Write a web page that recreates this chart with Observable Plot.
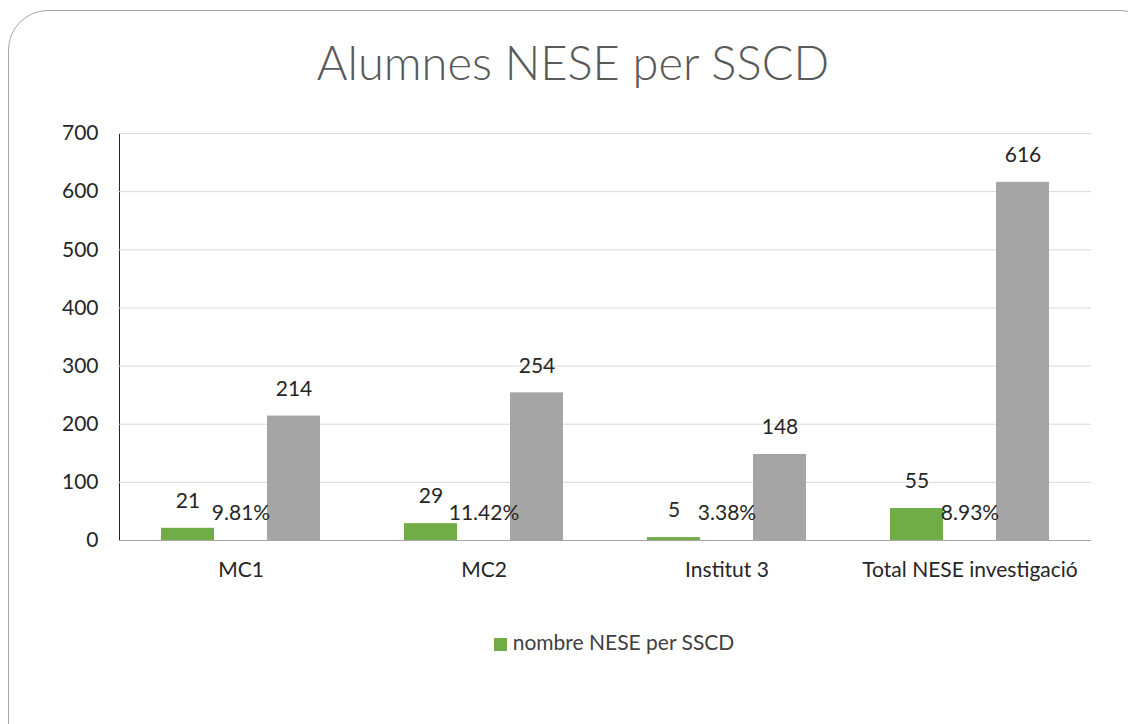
<!DOCTYPE html>
<html>
<head>
<meta charset="utf-8">
<script src="https://cdn.jsdelivr.net/npm/d3@7"></script>
<script src="https://cdn.jsdelivr.net/npm/@observablehq/plot@0.6"></script>
<style>
  html, body { margin: 0; padding: 0; width: 1128px; height: 724px; overflow: hidden; background: #fff; font-family: Lato, "Open Sans", sans-serif; }
  #box { position: absolute; left: 8px; top: 10px; width: 1150px; height: 760px; border: 1.5px solid #a6a6a6; border-radius: 40px; }
  #title { position: absolute; left: 0; top: 34px; width: 1146px; text-align: center; font-size: 47px; font-weight: 300; color: #595959; }
  #chart { position: absolute; left: 0; top: 110px; }
  #legend { position: absolute; left: 0; top: 629px; width: 1228px; text-align: center; font-size: 21px; color: #404040; }
  #legend .sw { display: inline-block; width: 13px; height: 13px; background: #70ad47; margin-right: 6px; vertical-align: -1px; }
</style>
</head>
<body>
<div id="box"></div>
<div id="title">Alumnes NESE per SSCD</div>
<div id="chart"></div>
<div id="legend"><span class="sw"></span>nombre NESE per SSCD</div>
<script>
const categories = ["MC1", "MC2", "Institut 3", "Total NESE investigació"];
const nombreNESE = [21, 29, 5, 55];
const percentatge = [9.81, 11.42, 3.38, 8.93];
const totalAlumnes = [214, 254, 148, 616];
const yTicks = [0, 100, 200, 300, 400, 500, 600, 700];
const seriesKeys = ["nese", "pct", "total"];
const seriesColors = ["#70ad47", "none", "#a5a5a5"];

const rows = [];
categories.forEach((c, i) => {
  rows.push({cat: c, series: "nese", value: nombreNESE[i], label: String(nombreNESE[i])});
  rows.push({cat: c, series: "pct", value: percentatge[i] / 100, label: percentatge[i].toFixed(2) + "%"});
  rows.push({cat: c, series: "total", value: totalAlumnes[i], label: String(totalAlumnes[i])});
});
const barRows = rows.filter(d => d.series !== "pct");

const chart = Plot.plot({
  width: 1128,
  height: 490,
  marginTop: 23,
  marginBottom: 60,
  marginLeft: 118,
  marginRight: 36,
  style: {fontFamily: "Lato, sans-serif", fontSize: "21px", color: "#262626", background: "transparent"},
  fx: {domain: categories, padding: 0, label: null, axis: "bottom", tickSize: 0, tickPadding: 22},
  x: {domain: seriesKeys, paddingInner: 0, paddingOuter: 0.755, axis: null},
  y: {domain: [0, 700], ticks: yTicks, label: null, tickSize: 0, tickPadding: 21, line: true},
  color: {domain: seriesKeys, range: seriesColors},
  marks: [
    Plot.ruleY(yTicks, {stroke: "#d9d9d9", strokeWidth: 1}),
    Plot.barY(barRows, {fx: "cat", x: "series", y: "value", fill: "series"}),
    Plot.text(rows, {fx: "cat", x: "series", y: "value", text: "label", dy: -27, fill: "#262626", fontSize: 21}),
    Plot.ruleY([0], {stroke: "#a6a6a6", strokeWidth: 1.2})
  ]
});
document.getElementById("chart").appendChild(chart);
chart.querySelectorAll("path.domain, [aria-label='y-axis'] path").forEach(p => p.setAttribute("stroke", "#bfbfbf"));
</script>
</body>
</html>
